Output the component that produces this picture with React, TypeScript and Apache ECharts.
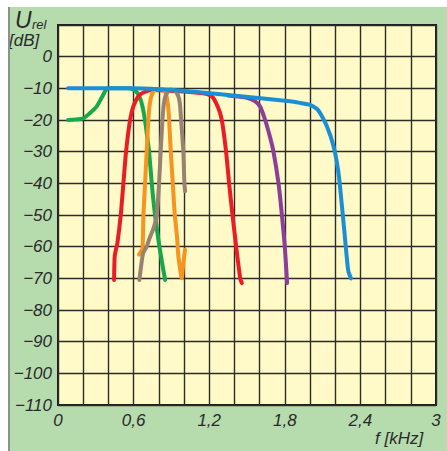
import React, { useEffect, useRef } from 'react';
import * as echarts from 'echarts';

// [frequency kHz, level dB]
const greenCurve: number[][] = [
  [0.08, -20], [0.2, -19.5], [0.254, -17.8], [0.307, -15.7], [0.346, -13], [0.373, -11], [0.39, -10],
  [0.55, -10], [0.6, -10.4], [0.63, -11.5], [0.651, -13], [0.672, -16], [0.69, -20], [0.707, -25],
  [0.723, -30], [0.744, -40], [0.77, -50], [0.805, -60], [0.83, -66], [0.85, -70.5],
];
const redCurve: number[][] = [
  [0.445, -70.5], [0.45, -63], [0.462, -60.5], [0.471, -59], [0.498, -50], [0.519, -40], [0.54, -30],
  [0.572, -20], [0.598, -15.7], [0.638, -12.5], [0.678, -11.3], [0.75, -10.5], [1.0, -11], [1.15, -11.6],
  [1.221, -12.5], [1.27, -16], [1.3, -20], [1.334, -30], [1.358, -40], [1.385, -50], [1.414, -60],
  [1.446, -70], [1.459, -71.5],
];
const purpleCurve: number[][] = [
  [1.35, -12.3], [1.5, -13], [1.565, -14.1], [1.605, -15.8], [1.644, -20], [1.68, -25], [1.71, -30],
  [1.75, -40], [1.777, -50], [1.8, -60], [1.816, -70], [1.818, -71.5],
];
const orangeCurve: number[][] = [
  [0.643, -62.5], [0.667, -61], [0.672, -60], [0.678, -50], [0.691, -40], [0.704, -30], [0.717, -20],
  [0.73, -14.5], [0.75, -11.5], [0.78, -10.3], [0.83, -10.3], [0.855, -11.5], [0.872, -15], [0.882, -20],
  [0.895, -30], [0.911, -40], [0.927, -50], [0.945, -57], [0.955, -63], [0.969, -67], [0.982, -70],
  [0.995, -65], [1.008, -61],
];
const brownCurve: number[][] = [
  [0.646, -70.5], [0.66, -66], [0.676, -62], [0.704, -60], [0.73, -57], [0.76, -54], [0.784, -50],
  [0.802, -40], [0.815, -30], [0.829, -20], [0.84, -15], [0.857, -12], [0.89, -10.4], [0.93, -10.8],
  [0.955, -12.5], [0.968, -15], [0.977, -20], [0.995, -30], [1.003, -40], [1.009, -42.5],
];
const blueCurve: number[][] = [
  [0.08, -10], [0.3, -10], [0.6, -10], [0.8, -10.3], [1.0, -10.8], [1.05, -11], [1.33, -12], [1.57, -13],
  [1.84, -14.1], [1.92, -14.6], [2.0, -15.2], [2.055, -16.5], [2.08, -17.8], [2.134, -22], [2.187, -28.3],
  [2.226, -36.7], [2.253, -47], [2.274, -55.7], [2.298, -66], [2.306, -68], [2.325, -70],
];

const xLabelValues = [0, 0.6, 1.2, 1.8, 2.4, 3];
const xLabelTexts = ['0', '0,6', '1,2', '1,8', '2,4', '3'];

const FONT = '"Liberation Sans Narrow", "Liberation Sans", Arial, sans-serif';
const TXT = '#2a2a2a';

export default function App() {
  const ref = useRef<HTMLDivElement>(null);
  useEffect(() => {
    if (!ref.current) return;
    const chart = echarts.init(ref.current, undefined, { renderer: 'svg' });
    const mk = (name: string, data: number[][], color: string) => ({
      name,
      type: 'line',
      data,
      showSymbol: false,
      smooth: 0.2,
      lineStyle: { color, width: 4, cap: 'round', join: 'round' },
      itemStyle: { color },
    });
    chart.setOption({
      animation: false,
      backgroundColor: 'transparent',
      grid: {
        left: 50, top: 18, width: 378, height: 380,
        show: true, backgroundColor: '#fffac8', borderColor: '#1c1c1c', borderWidth: 2,
      },
      xAxis: {
        type: 'value', min: 0, max: 3, interval: 0.2,
        axisLine: { show: false }, axisTick: { show: false },
        splitLine: { show: true, lineStyle: { color: '#2e2c27', width: 1.4 } },
        axisLabel: {
          margin: 7, fontSize: 17, fontStyle: 'italic', fontFamily: FONT, color: TXT,
          showMinLabel: true, showMaxLabel: true,
          formatter: (v: number) => {
            const i = xLabelValues.findIndex((x) => Math.abs(x - v) < 1e-6);
            return i >= 0 ? xLabelTexts[i] : '';
          },
        },
      },
      yAxis: {
        type: 'value', min: -110, max: 10, interval: 10,
        axisLine: { show: false }, axisTick: { show: false },
        splitLine: { show: true, lineStyle: { color: '#2e2c27', width: 1.4 } },
        axisLabel: {
          margin: 6, fontSize: 17, fontStyle: 'italic', fontFamily: FONT, color: TXT,
          showMinLabel: true, showMaxLabel: true,
          formatter: (v: number) => (v > 0 ? '' : v === 0 ? '0' : '\u2212' + Math.abs(v)),
        },
      },
      graphic: [
        { type: 'text', left: 7, top: 1, style: { text: 'U', font: `italic 23px ${FONT}`, fill: TXT } },
        { type: 'text', left: 24, top: 11, style: { text: 'rel', font: `italic 13px ${FONT}`, fill: TXT } },
        { type: 'text', left: 1, top: 25, style: { text: '[dB]', font: `italic 17px ${FONT}`, fill: TXT } },
        { type: 'text', left: 367, top: 423, style: { text: 'f [kHz]', font: `italic 17px ${FONT}`, fill: TXT } },
      ],
      series: [
        mk('green', greenCurve, '#17a84b'),
        mk('red', redCurve, '#ec1c24'),
        mk('purple', purpleCurve, '#8b3f98'),
        mk('orange', orangeCurve, '#f7941d'),
        mk('brown', brownCurve, '#9a8270'),
        mk('blue', blueCurve, '#1b8fd6'),
      ],
    });
    return () => chart.dispose();
  }, []);
  return (
    <>
      <div
        ref={ref}
        style={{ position: 'fixed', left: 8, top: 7, width: 439, height: 444, background: '#b6dcae' }}
      />
      <div style={{ position: 'fixed', left: 8, top: 7, width: 2, height: 444, background: '#8c918a', zIndex: 2 }} />
    </>
  );
}
